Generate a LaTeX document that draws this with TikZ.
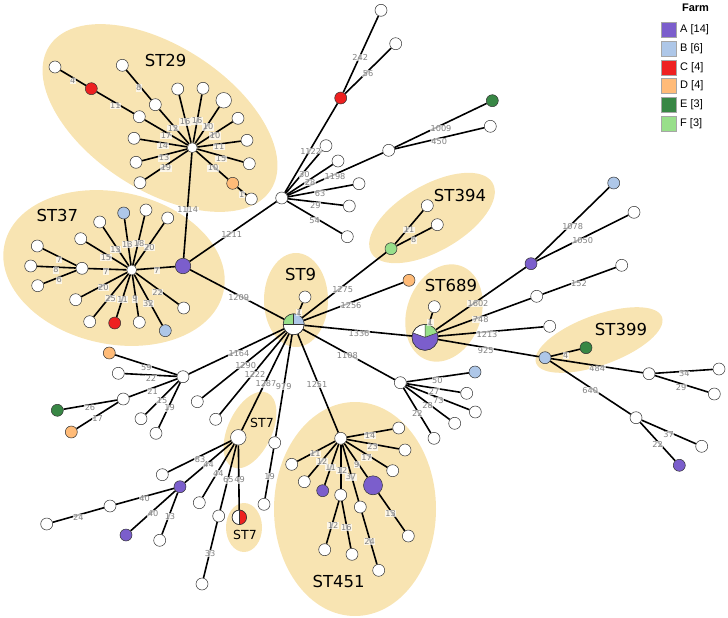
\documentclass[tikz,border=0pt]{standalone}
\usepackage{fontspec}
\setmainfont{DejaVu Sans}
\newfontfamily\legfont{Liberation Sans}
\definecolor{cA}{RGB}{123,94,204}
\definecolor{cB}{RGB}{174,199,232}
\definecolor{cC}{RGB}{238,32,32}
\definecolor{cD}{RGB}{255,187,120}
\definecolor{cE}{RGB}{56,135,69}
\definecolor{cF}{RGB}{152,223,138}
\definecolor{tan}{RGB}{248,228,178}
\definecolor{lblgray}{RGB}{130,130,130}
\pgfdeclarelayer{back}
\pgfdeclarelayer{edgel}
\pgfsetlayers{back,edgel,main}
\newcounter{elc}
\newcommand{\el}[3]{\stepcounter{elc}\node[lbl] (el\arabic{elc}) at (#1,#2) {#3};}
\begin{document}
\begin{tikzpicture}[x=1pt,y=-1pt,
  nd/.style={circle, draw=black!80, line width=0.5pt, fill=white, minimum size=12pt, inner sep=0pt},
  hubsm/.style={nd, minimum size=10pt},
  bignd/.style={nd, minimum size=15.5pt},
  edge/.style={line width=1.6pt, black},
  lbl/.style={font=\fontsize{8.2}{9}\selectfont, text=lblgray, fill=white, fill opacity=0.7, text opacity=1, inner sep=0.4pt},
  stl/.style={font=\fontsize{16.5}{18}\selectfont, inner sep=0pt},
  stsm/.style={font=\fontsize{12.5}{14}\selectfont, inner sep=0pt},
  grp/.style={fill=tan},
  pieline/.style={draw=black!80, line width=0.5pt},
  legsq/.style={draw=black!35, line width=0.5pt, minimum size=15pt, inner sep=0pt},
  legtx/.style={font=\legfont\fontsize{11}{12}\selectfont, anchor=west, inner sep=0pt}]
\useasboundingbox (0,0) rectangle (728,618);

% ---------- group ellipses ----------
\begin{pgfonlayer}{back}
\fill[grp, rotate around={-33:(160,118)}] (160,118) ellipse [x radius=132pt, y radius=72pt];
\fill[grp, rotate around={-12:(114,268)}] (114,268) ellipse [x radius=112pt, y radius=76pt];
\fill[grp] (296,300) ellipse [x radius=32pt, y radius=47pt];
\fill[grp, rotate around={30:(432,218)}] (432,218) ellipse [x radius=70pt, y radius=33pt];
\fill[grp, rotate around={-20:(444,313)}] (444,313) ellipse [x radius=37pt, y radius=50pt];
\fill[grp, rotate around={20:(599,340)}] (599,340) ellipse [x radius=67pt, y radius=25pt];
\fill[grp, rotate around={-25:(250,430)}] (250,430) ellipse [x radius=22pt, y radius=41pt];
\fill[grp] (244,527.5) ellipse [x radius=18pt, y radius=24.5pt];
\fill[grp] (355,509) ellipse [x radius=81pt, y radius=107pt];
\end{pgfonlayer}

% ---------- ST29 ----------
\node[hubsm] (a0) at (192.3,147.7) {};
\node[nd] (a1) at (55,67) {};
\node[nd, fill=cC] (a2) at (91.3,88.7) {};
\node[nd] (a3) at (139.3,116.7) {};
\node[nd] (a4) at (122.3,65.3) {};
\node[nd] (a5) at (155.3,104.7) {};
\node[nd] (a6) at (177.7,89) {};
\node[nd] (a7) at (203,88.3) {};
\node[bignd] (a8) at (223.7,100.3) {};
\node[nd] (a9) at (238,118.3) {};
\node[nd] (a10) at (247,140.3) {};
\node[nd] (a11) at (249.3,163.7) {};
\node[nd, fill=cD] (a12) at (232.7,183.3) {};
\node[nd] (a13) at (251.3,199) {};
\node[nd] (a14) at (134,138.3) {};
\node[nd] (a15) at (136,162.3) {};
\node[nd] (a16) at (140,182.7) {};

% ---------- ST37 ----------
\node[hubsm] (b0) at (131.7,270) {};
\node[bignd, fill=cA] (bp) at (183,266) {};
\node[nd] (bs) at (82,268.3) {};
\node[nd] (b1) at (37.3,246) {};
\node[nd] (b2) at (30.7,266) {};
\node[nd] (b3) at (37.7,285.7) {};
\node[nd] (b4) at (80.7,238.7) {};
\node[nd] (b5) at (99.7,222) {};
\node[nd, fill=cB] (b6) at (123.7,213) {};
\node[nd] (b7) at (146,210) {};
\node[nd] (b8) at (167.7,218) {};
\node[nd] (b9) at (183.7,308) {};
\node[nd, fill=cB] (b10) at (165.3,330.7) {};
\node[nd] (b11) at (139.3,322.3) {};
\node[nd, fill=cC] (b12) at (114.7,323) {};
\node[nd] (b13) at (89.7,321.7) {};
\node[nd] (b14) at (75.7,299.7) {};

% ---------- upper middle ----------
\node[nd] (c0) at (281.7,198) {};
\node[nd, fill=cC] (cr) at (340.7,98) {};
\node[nd] (c1) at (381,10.3) {};
\node[nd] (c2) at (395.7,43.7) {};
\node[nd] (c3) at (326,145.7) {};
\node[nd] (c4) at (338,161) {};
\node[nd] (ch) at (388.7,150.3) {};
\node[nd, fill=cE] (cg) at (492.3,100.7) {};
\node[nd] (c5) at (490.3,126.3) {};
\node[nd] (c6) at (359,183.7) {};
\node[nd] (c7) at (349.3,206) {};
\node[nd] (c8) at (347.3,236.7) {};

% ---------- ST9 / ST394 ----------
\node[nd, minimum size=21pt] (s9) at (293.7,324.3) {};
\node[nd] (s9a) at (305,297) {};
\node[nd, fill=cF] (d0) at (391,248.7) {};
\node[nd] (d1) at (427.3,205.7) {};
\node[nd] (d2) at (437.3,224.7) {};
\node[nd, fill=cD] (e1) at (409,280.3) {};

% ---------- ST689 / ST399 ----------
\node[nd, minimum size=26pt] (f0) at (425,337.3) {};
\node[nd] (f1) at (434.3,306.7) {};
\node[nd, fill=cA] (m0) at (531,263.7) {};
\node[nd, fill=cB] (m1) at (613.7,183) {};
\node[nd] (m2) at (634,212.3) {};
\node[nd] (n0) at (536.7,296.3) {};
\node[nd] (n1) at (621.7,265.3) {};
\node[nd] (n2) at (549.7,326.3) {};
\node[nd, fill=cB] (p0) at (545,357.7) {};
\node[nd, fill=cE] (p1) at (586,347.7) {};
\node[nd] (p2) at (649,373.7) {};
\node[nd] (p3) at (719,369) {};
\node[nd] (p4) at (714.3,394) {};
\node[nd] (q0) at (636,417.7) {};
\node[nd] (q1) at (701.7,446.3) {};
\node[nd, fill=cA] (q2) at (679.3,465.3) {};

% ---------- 1108 group ----------
\node[nd] (g0) at (400.3,382.7) {};
\node[nd, fill=cB] (g1) at (475,372) {};
\node[nd] (g2) at (466.7,393.3) {};
\node[nd] (g3) at (475.3,412) {};
\node[nd] (g4) at (454.7,423.3) {};
\node[nd] (g5) at (434,438.3) {};

% ---------- 1164 group ----------
\node[nd] (i0) at (183,376.7) {};
\node[nd, fill=cD] (i1) at (109.3,353) {};
\node[nd] (i2) at (118.3,373.3) {};
\node[nd] (i3) at (123.3,399) {};
\node[nd, fill=cE] (i4) at (57.3,410.3) {};
\node[nd, fill=cD] (i5) at (71.3,432) {};
\node[nd] (i6) at (141,418.7) {};
\node[nd] (i7) at (156,433.3) {};
\node[nd] (j1) at (197.3,401.7) {};
\node[nd] (j2) at (215.7,419.3) {};
\node[nd] (j3) at (274.7,442.7) {};
\node[nd] (j4) at (264,504.3) {};

% ---------- ST7 ----------
\node[bignd] (k0) at (238.3,437.3) {};
\node[nd] (k1) at (162.3,474.7) {};
\node[nd, fill=cA] (kp) at (180,486.7) {};
\node[nd] (k2) at (199.3,502.7) {};
\node[nd] (k3) at (218.7,516) {};
\node[nd] (k4) at (202,584) {};
\node[nd, minimum size=14.5pt] (kh) at (239.3,517.3) {};
\node[nd] (k5) at (110,506) {};
\node[nd] (k6) at (46.7,524) {};
\node[nd, fill=cA] (k7) at (126,535) {};
\node[nd] (k8) at (159.7,540.3) {};

% ---------- ST451 ----------
\node[nd] (h0) at (340.7,438.3) {};
\node[nd] (h1) at (398.7,428) {};
\node[nd] (h2) at (405,450) {};
\node[nd] (h3) at (392.7,470.7) {};
\node[nd, fill=cA, minimum size=19pt] (hp) at (373,485.3) {};
\node[nd] (h4) at (408.3,536) {};
\node[nd] (h5) at (360.3,507) {};
\node[nd] (h6) at (378.7,570.3) {};
\node[nd] (h7) at (340.7,495) {};
\node[nd] (h8) at (324.7,549.7) {};
\node[nd] (h9) at (352,554.3) {};
\node[nd, fill=cA] (h10) at (322.7,490.7) {};
\node[nd] (h11) at (304.3,481.7) {};
\node[nd] (h12) at (291.7,464.3) {};

% ---------- pies ----------
\begin{scope}[shift={(s9.center)}, x=1pt, y=1pt]
  \fill[cF] (0,0) -- (90:10.5) arc[start angle=90, end angle=180, radius=10.5] -- cycle;
  \fill[cB] (0,0) -- (0:10.5) arc[start angle=0, end angle=90, radius=10.5] -- cycle;
  \draw[pieline] (-10.5,0) -- (10.5,0) (0,0) -- (0,10.5);
  \draw[pieline] (0,0) circle[radius=10.5];
\end{scope}
\begin{scope}[shift={(f0.center)}, x=1pt, y=1pt]
  \fill[cA] (0,0) -- (160:13) arc[start angle=160, end angle=380, radius=13] -- cycle;
  \fill[cF] (0,0) -- (20:13) arc[start angle=20, end angle=90, radius=13] -- cycle;
  \draw[pieline] (0,0) -- (20:13) (0,0) -- (90:13) (0,0) -- (160:13);
  \draw[pieline] (0,0) circle[radius=13];
\end{scope}
\begin{scope}[shift={(kh.center)}, x=1pt, y=1pt]
  \fill[cC] (0,-7.25) arc[start angle=-90, end angle=90, radius=7.25] -- cycle;
  \draw[pieline] (0,-7.25) -- (0,7.25);
  \draw[pieline] (0,0) circle[radius=7.25];
\end{scope}

% ---------- edges ----------
\begin{pgfonlayer}{edgel}
\draw[edge] (a1) -- (a2) -- (a3) -- (a0);
\draw[edge] (a4) -- (a5) -- (a0);
\foreach \t in {a6,a7,a8,a9,a10,a11,a12,a14,a15,a16} \draw[edge] (a0) -- (\t);
\draw[edge] (a12) -- (a13);
\draw[edge] (a0) -- (bp);
\draw[edge] (bs) -- (b0);
\foreach \t in {b1,b2,b3} \draw[edge] (bs) -- (\t);
\foreach \t in {b4,b5,b6,b7,b8,bp,b9,b10,b11,b12,b13,b14} \draw[edge] (b0) -- (\t);
\draw[edge] (bp) -- (c0);
\draw[edge] (bp) -- (s9);
\draw[edge] (c0) -- (cr);
\draw[edge] (cr) -- (c1);
\draw[edge] (cr) -- (c2);
\foreach \t in {c3,c4,ch,c6,c7,c8} \draw[edge] (c0) -- (\t);
\draw[edge] (ch) -- (cg);
\draw[edge] (ch) -- (c5);
\foreach \t in {s9a,d0,e1,f0,g0,h0,i0,j1,j2,k0,j3} \draw[edge] (s9) -- (\t);
\draw[edge] (d0) -- (d1);
\draw[edge] (d0) -- (d2);
\draw[edge] (j3) -- (j4);
\foreach \t in {f1,m0,n0,n2,p0} \draw[edge] (f0) -- (\t);
\draw[edge] (m0) -- (m1);
\draw[edge] (m0) -- (m2);
\draw[edge] (n0) -- (n1);
\draw[edge] (p0) -- (p1);
\draw[edge] (p0) -- (p2);
\draw[edge] (p2) -- (p3);
\draw[edge] (p2) -- (p4);
\draw[edge] (p0) -- (q0);
\draw[edge] (q0) -- (q1);
\draw[edge] (q0) -- (q2);
\foreach \t in {g1,g2,g3,g4,g5} \draw[edge] (g0) -- (\t);
\foreach \t in {i1,i2,i3,i6,i7} \draw[edge] (i0) -- (\t);
\draw[edge] (i3) -- (i4);
\draw[edge] (i3) -- (i5);
\foreach \t in {k1,kp,k2,k3,kh} \draw[edge] (k0) -- (\t);
\draw[edge] (k3) -- (k4);
\draw[edge] (kp) -- (k5) -- (k6);
\draw[edge] (kp) -- (k7);
\draw[edge] (kp) -- (k8);
\foreach \t in {h1,h2,h3,hp,h5,h7,h10,h11,h12} \draw[edge] (h0) -- (\t);
\draw[edge] (hp) -- (h4);
\draw[edge] (h5) -- (h6);
\draw[edge] (h7) -- (h8);
\draw[edge] (h7) -- (h9);
\end{pgfonlayer}

% ---------- edge labels ----------
\el{72.7}{81}{4} \el{115.3}{106}{11} \el{166}{136}{17} \el{138.7}{88}{8}
\el{173}{128}{12} \el{185}{122}{16} \el{197}{121}{16} \el{208}{127}{10}
\el{215}{136}{10} \el{219}{147}{11} \el{221}{159}{15} \el{213}{168}{10}
\el{241.7}{194.3}{1} \el{163}{146}{14} \el{164}{158}{13} \el{166}{168}{19}
\el{187.7}{210}{1114}
\el{106}{271.7}{7} \el{59.3}{260}{7} \el{56}{270}{8} \el{59.3}{280}{6}
\el{106}{257.7}{15} \el{115.7}{249.3}{13} \el{127.3}{244.3}{13} \el{139}{243.3}{18}
\el{149.3}{247.3}{20} \el{156.7}{270.7}{7} \el{157.7}{292}{22} \el{148.3}{303.7}{32}
\el{135}{299}{9} \el{122.7}{299.3}{11} \el{110.7}{298.7}{25} \el{103.3}{287.7}{20}
\el{231.7}{234.3}{1211} \el{238.7}{297.7}{1209}
\el{310.7}{151}{1122} \el{360.3}{57.3}{242} \el{368}{73.7}{56}
\el{304.3}{174.7}{30} \el{310}{182.3}{28} \el{335}{176.7}{1198}
\el{441}{128.7}{1009} \el{439.3}{141.3}{450} \el{320}{193.3}{63}
\el{315.3}{205.7}{29} \el{314.7}{220.7}{54}
\el{299.3}{312.7}{1} \el{342.7}{289.3}{1275} \el{409}{230}{11} \el{413.7}{240}{8}
\el{351}{305.7}{1256} \el{359}{334}{1336} \el{347.3}{356}{1108}
\el{317}{384.3}{1251} \el{239}{353.3}{1164} \el{245.7}{365.7}{1290}
\el{255}{374.3}{1222} \el{266}{384}{1287} \el{283.7}{386.7}{979} \el{269.7}{476.7}{19}
\el{430.5}{322.7}{1} \el{478}{303.7}{1602} \el{572.7}{226.7}{1078} \el{582.7}{241}{1050}
\el{480.7}{319.3}{748} \el{579}{284}{152} \el{487}{334.7}{1213} \el{485.7}{350.7}{925}
\el{565.7}{355.3}{4} \el{597.3}{369}{484} \el{684.3}{374}{34} \el{681}{387.3}{29}
\el{590.3}{390.7}{640} \el{668.7}{434.7}{37} \el{657.7}{444.3}{22}
\el{437.3}{380.3}{50} \el{434}{391.7}{27} \el{438.3}{400.3}{73} \el{427.7}{406}{28} \el{417.3}{413.3}{22}
\el{146.3}{368}{59} \el{151}{378.3}{22} \el{152.7}{391}{21} \el{90}{408}{26}
\el{97.7}{419}{17} \el{162}{401}{15} \el{169.7}{408}{19}
\el{200}{459.3}{83} \el{208.7}{465}{44} \el{218.3}{473.3}{44} \el{228.3}{480}{65}
\el{210}{553.3}{33} \el{239.5}{480}{49} \el{144.7}{499}{40} \el{78.3}{517.7}{24}
\el{153}{513.7}{40} \el{170}{516.3}{13}
\el{370}{435.3}{14} \el{372.7}{447}{23} \el{366.7}{457.7}{17} \el{356.7}{464.7}{9}
\el{390.7}{513.3}{13} \el{351}{477}{37} \el{369.7}{541.7}{24} \el{342}{470.5}{12}
\el{333}{525.3}{12} \el{346.3}{527.7}{16} \el{330.5}{467.5}{11} \el{322}{461.8}{12} \el{315.3}{454}{11}

% ---------- group labels ----------
\node[stl] (t29) at (165.7,60) {ST29};
\node[stl] (t37) at (57.3,215) {ST37};
\node[stl] (t9) at (300.7,274.3) {ST9};
\node[stl] (t394) at (460,195) {ST394};
\node[stl] (t689) at (451,285.7) {ST689};
\node[stl] (t399) at (621,329) {ST399};
\node[stsm] (t7a) at (262,423) {ST7};
\node[stsm] (t7b) at (245,535.3) {ST7};
\node[stl] (t451) at (338.7,581.7) {ST451};

% ---------- legend ----------
\node[font=\legfont\bfseries\fontsize{11}{12}\selectfont, inner sep=0pt] (lt) at (695.5,8) {Farm};
\node[legsq, fill=cA] (lA) at (669,29.3) {};
\node[legsq, fill=cB] (lB) at (669,48.3) {};
\node[legsq, fill=cC] (lC) at (669,67.3) {};
\node[legsq, fill=cD] (lD) at (669,86) {};
\node[legsq, fill=cE] (lE) at (669,105) {};
\node[legsq, fill=cF] (lF) at (669,123.7) {};
\node[legtx] (xA) at (680,29.3) {A [14]};
\node[legtx] (xB) at (680,48.3) {B [6]};
\node[legtx] (xC) at (680,67.3) {C [4]};
\node[legtx] (xD) at (680,86) {D [4]};
\node[legtx] (xE) at (680,105) {E [3]};
\node[legtx] (xF) at (680,123.7) {F [3]};
\end{tikzpicture}
\end{document}
